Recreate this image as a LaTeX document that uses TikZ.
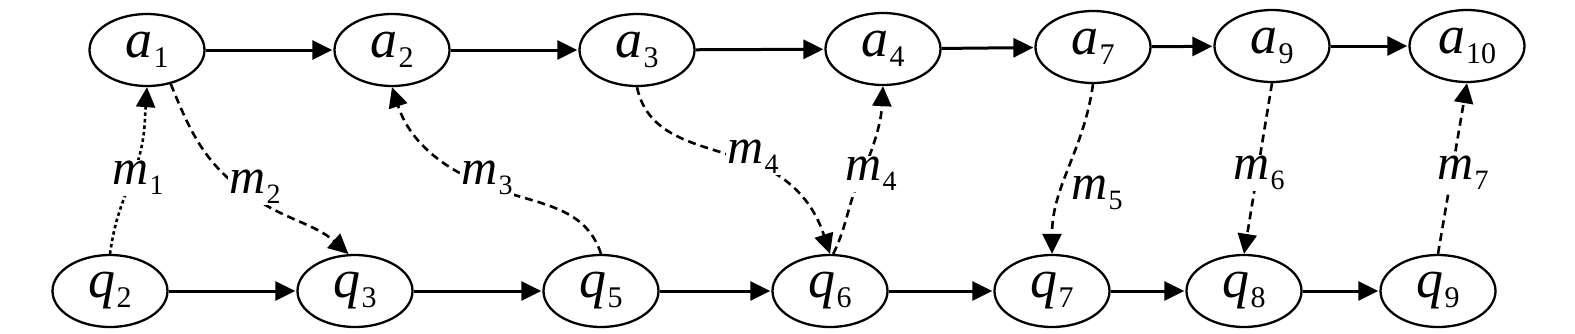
\documentclass[tikz,border=0pt]{standalone}
\usepackage{fontspec}
\setmainfont{Liberation Serif}[Ligatures=TeX]
\usetikzlibrary{shapes.geometric,arrows.meta}
\newfontfamily\lserif{Liberation Serif}
\newcommand{\vlab}[2]{\lserif\textit{#1}\kern1pt\raisebox{-10pt}{\fontsize{30}{30}\selectfont #2}}
\newcommand{\mlab}[1]{\lserif\textit{m}\kern1pt\raisebox{-10pt}{\fontsize{28}{28}\selectfont #1}}
\begin{document}
\begin{tikzpicture}[x=1pt,y=1pt,
  state/.style={ellipse, draw, line width=2.3pt, minimum width=115pt, minimum height=72pt, inner sep=0pt, font=\lserif\fontsize{54}{60}\selectfont},
  flow/.style={-{Triangle[length=20pt,width=19pt]}, line width=3pt, shorten >=1pt},
  msg/.style={-{Triangle[length=20pt,width=19pt]}, line width=2.6pt, dash pattern=on 8pt off 5pt},
  msgdot/.style={msg, dash pattern=on 3.5pt off 3pt},
  mlabel/.style={fill=white, inner sep=1pt, font=\lserif\fontsize{50}{56}\selectfont}]
\useasboundingbox (0,0) rectangle (1575,-333);
% top row
\node[state] (a1) at (147,-50) {\vlab{a}{1}};
\node[state] (a2) at (392,-50) {\vlab{a}{2}};
\node[state] (a3) at (637,-50) {\vlab{a}{3}};
\node[state] (a4) at (883,-49) {\vlab{a}{4}};
\node[state] (a7) at (1093,-47) {\vlab{a}{7}};
\node[state] (a9) at (1272,-46) {\vlab{a}{9}};
\node[state] (a10) at (1467,-46) {\vlab{a}{10}};
% bottom row
\node[state] (q2) at (110,-291) {\vlab{q}{2}};
\node[state] (q3) at (355,-291) {\vlab{q}{3}};
\node[state] (q5) at (601,-291) {\vlab{q}{5}};
\node[state] (q6) at (830,-291) {\vlab{q}{6}};
\node[state] (q7) at (1052,-291) {\vlab{q}{7}};
\node[state] (q8) at (1244,-291) {\vlab{q}{8}};
\node[state] (q9) at (1438,-291) {\vlab{q}{9}};
% horizontal flows
\draw[flow] (a1) -- (a2);
\draw[flow] (a2) -- (a3);
\draw[flow] (a3) -- (a4);
\draw[flow] (a4) -- (a7);
\draw[flow] (a7) -- (a9);
\draw[flow] (a9) -- (a10);
\draw[flow] (q2) -- (q3);
\draw[flow] (q3) -- (q5);
\draw[flow] (q5) -- (q6);
\draw[flow] (q6) -- (q7);
\draw[flow] (q7) -- (q8);
\draw[flow] (q8) -- (q9);
% via points
\coordinate (c1) at (132,-178);
\coordinate (c2) at (248,-194);
\coordinate (c3) at (485,-185);
\coordinate (c4) at (751,-162);
\coordinate (c5) at (864,-170);
% messages
\draw[msgdot] (q2.north) to[out=82,in=-112] (c1) to[out=68,in=-94] (a1.south);
\draw[msg] (a1.-55) to[out=-68,in=145] (c2) to[out=-35,in=138] (q3.100);
\draw[msg] (q5.north) to[out=108,in=-22] (c3) to[out=158,in=-72] (a2.south);
\draw[msg] (a3.south) to[out=-78,in=160] (c4) to[out=-20,in=108] (q6.north);
\draw[msg] (q6.85) to[out=64,in=-118] (c5) to[out=68,in=-93] (a4.south);
\draw[msg] (a7.south) to[out=-98,in=90] (q7.north);
\draw[msg] (a9.south) -- (q8.north);
\draw[msg] (q9.north) -- (a10.south);
% labels
\node[mlabel] (l1) at (138,-178) {\mlab{1}};
\node[mlabel] (l2) at (255,-187) {\mlab{2}};
\node[mlabel] (l3) at (487,-178) {\mlab{3}};
\node[mlabel] (l4) at (753,-157) {\mlab{4}};
\node[mlabel] (l5) at (871,-174) {\mlab{4}};
\node[mlabel] (l6) at (1097,-193) {\mlab{5}};
\node[mlabel] (l7) at (1259,-173) {\mlab{6}};
\node[mlabel] (l8) at (1463,-173) {\mlab{7}};
\end{tikzpicture}
\end{document}
